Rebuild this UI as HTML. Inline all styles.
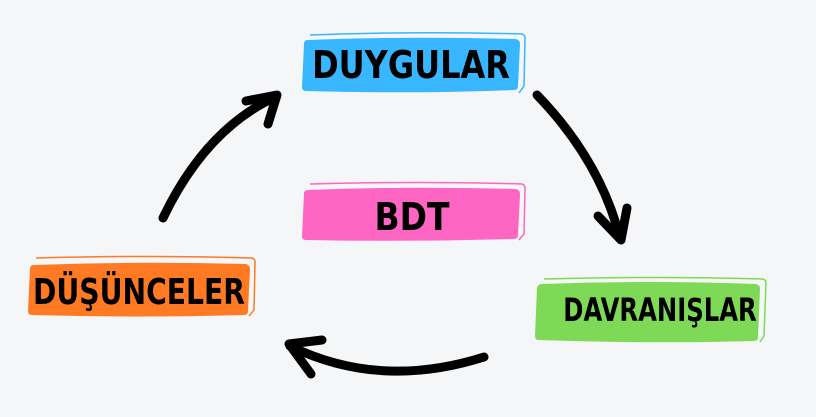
<!DOCTYPE html>
<html><head><meta charset="utf-8"><style>
html,body{margin:0;padding:0;background:#f5f6f8;}
svg{display:block}
text{font-family:"DejaVu Sans","Liberation Sans",sans-serif;font-weight:bold;fill:#000}
</style></head><body>
<svg width="816" height="417" viewBox="0 0 816 417" xmlns="http://www.w3.org/2000/svg">
<rect width="816" height="417" fill="#f5f6f8"/>
<!-- DUYGULAR -->
<path d="M308 40 Q400 36 516 39 Q520 40 520 44 L518 86 Q518 90 514 90 Q410 94 306 91 Q302 91 302 87 L304 44 Q304 40 308 40 Z" fill="#38b6ff"/>
<path d="M310 35 Q420 31 522 34 Q525 35 525 38 L524 86 L519 93" fill="none" stroke="#38b6ff" stroke-width="1.5"/>
<text x="0" y="0" font-size="33" text-anchor="middle" transform="translate(411 78) scale(0.97 1.15)">DUYGULAR</text>
<!-- BDT -->
<path d="M308 190 Q400 186 516 189 Q520 190 520 194 L518 235 Q518 239 514 239 Q410 242 306 240 Q302 240 302 236 L304 194 Q304 190 308 190 Z" fill="#ff66c4"/>
<path d="M310 184 Q420 181 522 184 Q525 185 525 188 L524 234 L519 240" fill="none" stroke="#ff66c4" stroke-width="1.5"/>
<text x="0" y="0" font-size="33" text-anchor="middle" transform="translate(412 230) scale(1 1.15)">BDT</text>
<!-- DÜŞÜNCELER -->
<path d="M34 265 Q140 261 246 264 Q250 265 250 269 L248 311 Q248 315 244 315 Q140 318 32 315 Q28 315 28 311 L30 269 Q30 265 34 265 Z" fill="#ff7a22"/>
<path d="M36 258 Q150 255 252 258 Q255 259 255 262 L254 310 L249 316" fill="none" stroke="#ff7a22" stroke-width="1.5"/>
<text x="0" y="0" font-size="30" text-anchor="middle" transform="translate(139 304) scale(0.94 1.2)">DÜŞÜNCELER</text>
<!-- DAVRANIŞLAR -->
<path d="M542 284 Q650 280 756 284 Q760 285 760 289 L758 337 Q758 341 754 341 Q650 344 539 340 Q535 340 535 336 L537 288 Q538 284 542 284 Z" fill="#7ed957"/>
<path d="M544 279 Q655 276 763 279 Q766 280 766 283 L764 336 L760 342" fill="none" stroke="#7ed957" stroke-width="1.5"/>
<text x="0" y="0" font-size="27" text-anchor="middle" transform="translate(660 321) scale(0.9 1.2)">DAVRANIŞLAR</text>
<!-- arrows -->
<g fill="none" stroke="#000" stroke-width="9" stroke-linecap="round" stroke-linejoin="round">
<path d="M163 218 Q205 130 275 97"/>
<path d="M246 101 L277 95 L268 124"/>
<path d="M537 95 Q600 160 620 238"/>
<path d="M598 216 L621 240 L627 208"/>
<path d="M484 357 Q380 390 290 346"/>
<path d="M322 340 L289 344 L311 374"/>
</g>
</svg>
</body></html>
